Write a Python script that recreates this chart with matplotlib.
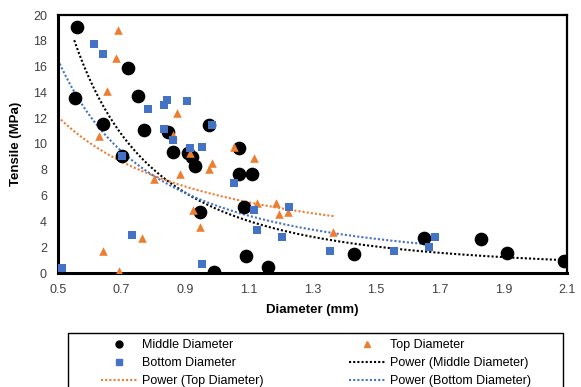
import numpy as np
import matplotlib
matplotlib.use("Agg")
import matplotlib.pyplot as plt
from matplotlib.patches import Rectangle
from matplotlib.lines import Line2D

plt.rcParams['font.family'] = ['Liberation Sans', 'DejaVu Sans']

# ---- data ----
middle_x = [0.56, 0.554, 0.64, 0.70, 0.72, 0.75, 0.77, 0.845, 0.86, 0.91, 0.92, 0.93,
            0.945, 0.975, 0.99, 1.07, 1.07, 1.11, 1.085, 1.09, 1.16, 1.43, 1.65, 1.83,
            1.91, 2.09]
middle_y = [19.1, 13.6, 11.55, 9.1, 15.9, 13.7, 11.1, 10.9, 9.4, 9.3, 9.0, 8.3,
            4.7, 11.5, 0.05, 9.7, 7.7, 7.7, 5.1, 1.3, 0.5, 1.5, 2.75, 2.65,
            1.55, 0.9]

top_x = [0.69, 0.683, 0.654, 0.63, 0.875, 0.863, 0.914, 0.985, 0.975, 0.885, 0.803,
         1.052, 1.115, 0.925, 0.945, 1.125, 1.185, 1.195, 1.222, 0.643, 0.765, 0.693,
         1.365]
top_y = [18.8, 16.7, 14.1, 10.6, 12.4, 10.7, 9.3, 8.5, 8.05, 7.7, 7.3,
         9.8, 8.9, 4.9, 3.55, 5.4, 5.4, 4.6, 4.75, 1.7, 2.7, 0.15,
         3.2]

bottom_x = [0.613, 0.643, 0.784, 0.832, 0.843, 0.904, 0.832, 0.862, 0.915, 0.953,
            0.985, 0.70, 1.052, 1.115, 1.125, 1.225, 1.203, 0.733, 0.953, 0.512,
            1.355, 1.557, 1.686, 1.667]
bottom_y = [17.75, 17.0, 12.7, 13.0, 13.4, 13.35, 11.2, 10.3, 9.7, 9.8,
            11.5, 9.1, 7.0, 4.9, 3.35, 5.1, 2.8, 2.95, 0.7, 0.4,
            1.7, 1.7, 2.8, 2.0]

# power trendline coefficients y = a * x**b and x-range
middle_fit = (4.95, -2.17, 0.551, 2.09)
top_fit = (6.03, -1.006, 0.50, 1.367)
bottom_fit = (5.2, -1.668, 0.50, 1.651)

x_ticks = [0.5, 0.7, 0.9, 1.1, 1.3, 1.5, 1.7, 1.9, 2.1]
y_ticks = [0, 2, 4, 6, 8, 10, 12, 14, 16, 18, 20]

# ---- figure ----
W, H = 581, 387
fig = plt.figure(figsize=(W / 100, H / 100), dpi=100)
ax = fig.add_axes([58 / W, 1 - 273 / H, (567 - 58) / W, (273 - 15) / H])

black = '#000000'
orange = '#ED7D31'
blue = '#4472C4'

ax.scatter(middle_x, middle_y, s=78, c=black, marker='o', zorder=3, label='Middle Diameter')
ax.scatter(top_x, top_y, s=38, c=orange, marker='^', zorder=4, linewidths=0, label='Top Diameter')
ax.scatter(bottom_x, bottom_y, s=36, c=blue, marker='s', zorder=5, linewidths=0, label='Bottom Diameter')

dot = (0, (1, 1))
for (a, b, x0, x1), col in [(middle_fit, black), (top_fit, orange), (bottom_fit, blue)]:
    xx = np.linspace(x0, x1, 200)
    ax.plot(xx, a * xx ** b, color=col, lw=1.5, linestyle=dot, zorder=2)

ax.set_xlim(0.5, 2.1)
ax.set_ylim(0, 20)
ax.set_xticks(x_ticks)
ax.set_xticklabels([f"{v:g}" for v in x_ticks])
ax.set_yticks(y_ticks)
ax.tick_params(length=0, labelsize=9, pad=8)
for t in ax.get_xticklabels() + ax.get_yticklabels():
    t.set_color('#404040')
for side in ['left', 'bottom']:
    ax.spines[side].set_linewidth(2.2)
for side in ['top', 'right']:
    ax.spines[side].set_linewidth(1.6)
for s in ax.spines.values():
    s.set_color('black')

ax.set_xlabel('Diameter (mm)', fontsize=9.5, fontweight='bold', labelpad=6)
ax.set_ylabel('Tensile (MPa)', fontsize=9.5, fontweight='bold', labelpad=8)

# ---- legend ----
handles = [
    Line2D([], [], linestyle='none', marker='o', color=black, markersize=5),
    Line2D([], [], linestyle='none', marker='s', color=blue, markersize=5),
    Line2D([], [], color=orange, lw=1.5, linestyle=dot),
    Line2D([], [], linestyle='none', marker='^', color=orange, markersize=5),
    Line2D([], [], color=black, lw=1.5, linestyle=dot),
    Line2D([], [], color=blue, lw=1.5, linestyle=dot),
]
labels = ['Middle Diameter', 'Bottom Diameter', 'Power (Top Diameter)',
          'Top Diameter', 'Power (Middle Diameter)', 'Power (Bottom Diameter)']
leg = fig.legend(handles, labels, ncol=2, loc='upper center',
                 bbox_to_anchor=(316 / W, 1 - 329 / H), frameon=False,
                 fontsize=9, handlelength=2.9, handletextpad=0.4,
                 columnspacing=6.8, labelspacing=0.48, borderpad=0.3)
fig.patches.append(Rectangle((68 / W, -0.05), (563 - 68) / W, (1 - 333 / H) + 0.05,
                             transform=fig.transFigure, fill=False,
                             edgecolor='black', lw=1.0))

fig.savefig('out.png', dpi=100)
